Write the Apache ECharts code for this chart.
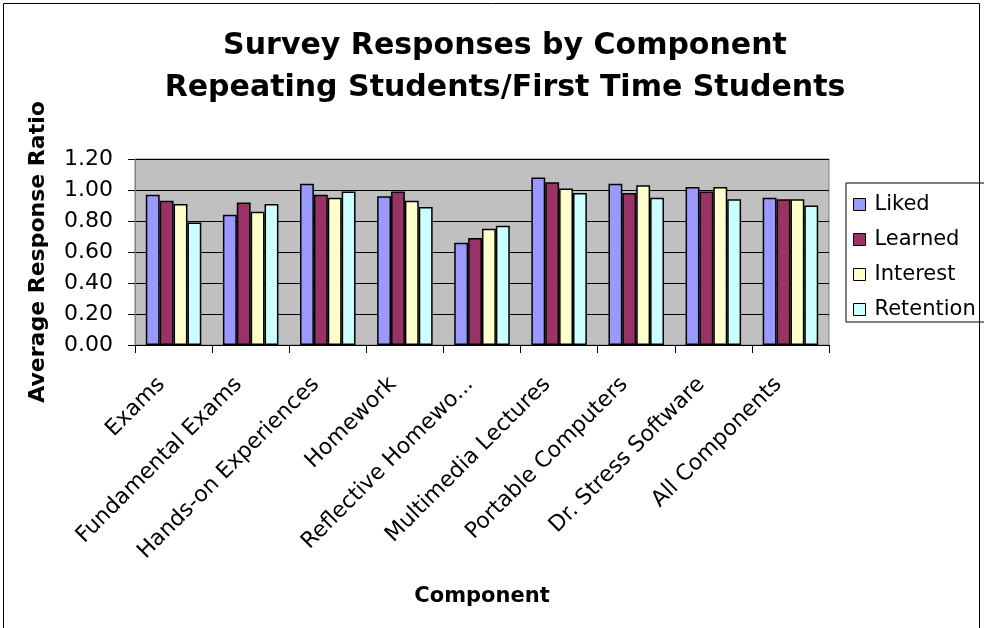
<!DOCTYPE html>
<html>
<head>
<meta charset="utf-8">
<script src="https://cdn.jsdelivr.net/npm/echarts@6/dist/echarts.min.js"></script>
<style>
  html, body { margin: 0; padding: 0; background: #fff; }
  #chart { width: 984px; height: 628px; }
</style>
</head>
<body>
<div id="chart"></div>
<script>
const categories = ['Exams', 'Fundamental Exams', 'Hands-on Experiences', 'Homework',
  'Reflective Homewo...', 'Multimedia Lectures', 'Portable Computers', 'Dr. Stress Software', 'All Components'];
const liked     = [0.97, 0.84, 1.04, 0.96, 0.66, 1.08, 1.04, 1.02, 0.95];
const learned   = [0.93, 0.92, 0.97, 0.99, 0.69, 1.05, 0.98, 0.99, 0.94];
const interest  = [0.91, 0.86, 0.95, 0.93, 0.75, 1.01, 1.03, 1.02, 0.94];
const retention = [0.79, 0.91, 0.99, 0.89, 0.77, 0.98, 0.95, 0.94, 0.90];
const seriesNames = ['Liked', 'Learned', 'Interest', 'Retention'];
const seriesData = [liked, learned, interest, retention];
const colors = ['#9999FF', '#993366', '#FFFFCC', '#CCFFFF'];

const font = 'DejaVu Sans, Verdana, sans-serif';
const chart = echarts.init(document.getElementById('chart'));

chart.setOption({
  animation: false,
  color: colors,
  title: {
    text: 'Survey Responses by Component\nRepeating Students/First Time Students',
    top: 20,
    left: 500,
    textAlign: 'center',
    textStyle: {
      fontFamily: font,
      fontSize: 30,
      fontWeight: 'bold',
      color: '#000',
      lineHeight: 42
    }
  },
  legend: {
    orient: 'vertical',
    left: 846,
    top: 183,
    width: 150,
    padding: [11, 20, 2, 7],
    itemGap: 14,
    itemWidth: 12,
    itemHeight: 12,
    icon: 'rect',
    borderColor: '#000',
    borderWidth: 1,
    itemStyle: { borderColor: '#000', borderWidth: 1 },
    textStyle: { fontFamily: font, fontSize: 21, color: '#000', padding: [0, 0, 0, 4] },
    data: seriesNames
  },
  grid: {
    left: 135,
    right: 155,
    top: 159,
    bottom: 283,
    show: true,
    backgroundColor: '#C0C0C0',
    borderColor: '#808080',
    borderWidth: 1
  },
  xAxis: {
    type: 'category',
    data: categories,
    name: 'Component',
    nameLocation: 'middle',
    nameGap: 241,
    nameTextStyle: { fontFamily: font, fontSize: 21, fontWeight: 'bold', color: '#000' },
    axisLine: { lineStyle: { color: '#000' } },
    axisTick: { show: true, length: 8, lineStyle: { color: '#000' } },
    axisLabel: {
      interval: 0,
      rotate: 45,
      margin: 24,
      padding: [0, 17, 0, 0],
      fontFamily: font,
      fontSize: 22,
      color: '#000'
    }
  },
  yAxis: {
    type: 'value',
    min: 0,
    max: 1.2,
    interval: 0.2,
    name: 'Average Response Ratio',
    nameLocation: 'middle',
    nameGap: 86,
    nameTextStyle: { fontFamily: font, fontSize: 22, fontWeight: 'bold', color: '#000' },
    axisLine: { show: true, lineStyle: { color: '#808080' } },
    axisTick: { show: true, length: 7, lineStyle: { color: '#000' } },
    splitLine: { lineStyle: { color: '#000', width: 1 } },
    axisLabel: {
      margin: 22,
      fontFamily: font,
      fontSize: 22,
      color: '#000',
      formatter: v => v.toFixed(2)
    }
  },
  series: seriesNames.map((n, i) => ({
    name: n,
    type: 'bar',
    data: seriesData[i],
    barGap: '0%',
    barCategoryGap: '28%',
    itemStyle: { borderColor: '#000', borderWidth: 1.5 }
  })),
  graphic: [{
    type: 'rect',
    shape: { x: 3.5, y: 3.5, width: 976, height: 640 },
    style: { fill: 'none', stroke: '#000', lineWidth: 1 },
    silent: true
  }]
});
</script>
</body>
</html>
